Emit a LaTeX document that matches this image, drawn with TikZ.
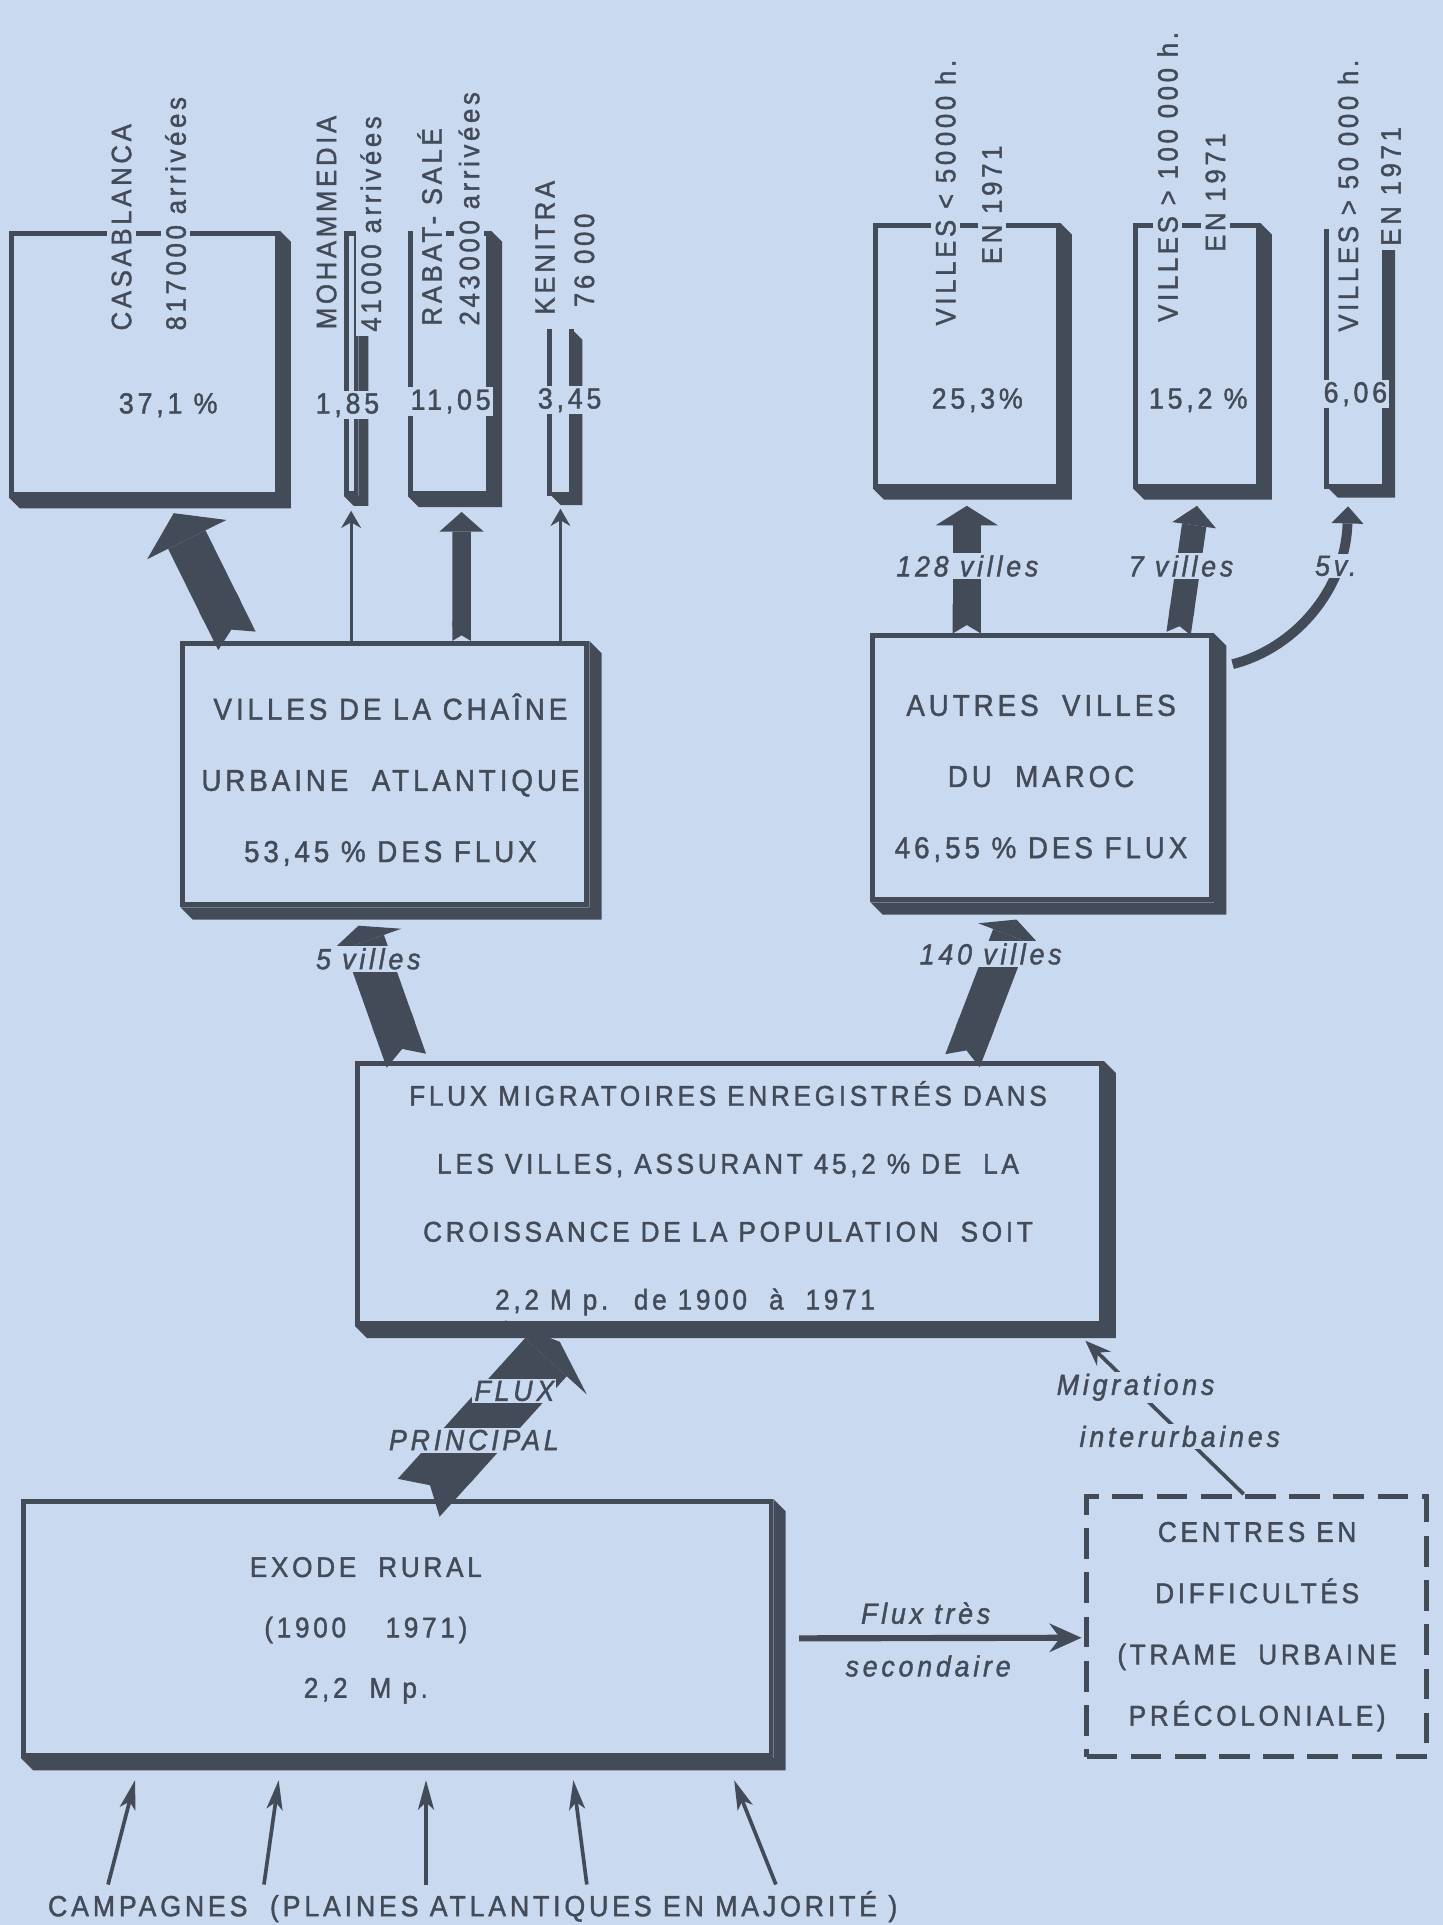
\documentclass[tikz,border=0pt]{standalone}
\usepackage{fontspec}
\setmainfont{Liberation Sans}
\newfontfamily\lett[LetterSpace=13, FakeStretch=0.92, FakeBold=1.4]{Liberation Sans}
\usetikzlibrary{arrows.meta,calc,fit}
\definecolor{paper}{RGB}{201,217,240}
\definecolor{ink}{RGB}{68,75,88}

% thick slab under the right and bottom sides of a frame
\newcommand\boxslab[2][9]{%
  \fill[ink] (#2.north east) -- ++(#1,#1) -- ($(#2.south east)+(#1,#1)$)
    -- ($(#2.south west)+(#1,#1)$) -- (#2.south west) -- (#2.south east) -- cycle;}

\tikzset{
  frame/.style={draw=ink, line width=0.08cm, inner sep=0pt},
  hidden/.style={inner sep=0pt},
  boxtext/.style={font=\lett\fontsize{14}{33}\selectfont, text=ink, align=center},
  vlabel/.style={rotate=90, anchor=west, font=\lett\fontsize{13}{15}\selectfont,
    text=ink, fill=paper, inner sep=2pt},
  value/.style={font=\lett\fontsize{13.5}{15}\selectfont, text=ink, fill=paper, inner sep=1pt},
  flow/.style={font=\lett\itshape\fontsize{13.5}{15}\selectfont, text=ink, fill=paper, inner sep=1pt},
  fat/.style n args={3}{draw=ink, line width=#1,
    {Triangle Cap[reversed, length=0pt .3]}-{Triangle[width=#2, length=#3, line width=0pt]}},
  thin/.style={draw=ink, line width=0.05cm, -{Stealth[length=0.28cm, width=0.32cm]}},
}

\begin{document}
\begin{tikzpicture}[x=0.02cm, y=-0.02cm]
\fill[paper] (0,0) rectangle (1175,1568);
\useasboundingbox (0,0) rectangle (1175,1568);

% Chaine atlantique: destination towns
\node[frame, fit={(9,190) (226,403)}] (casa) {};
\node[frame, fit={(282,190) (290,402)}] (moha) {};
\node[frame, fit={(334,190) (398,402)}] (rabat) {};
\node[hidden, fit={(448,268) (465,402)}] (keni) {};
\draw[ink, line width=0.08cm] (keni.north west) -- (keni.south west) -- (keni.south east) -- (keni.north east);
\boxslab{casa} \boxslab[8]{moha} \boxslab{rabat} \boxslab{keni}

% Autres villes: destination classes
\node[frame, fit={(713,184) (862,396)}] (small) {};
\node[frame, fit={(925,184) (1025,396)}] (large) {};
\node[hidden, fit={(1081,187) (1127,396)}] (medium) {};
\draw[ink, line width=0.08cm] (medium.north west) -- (medium.south west) -- (medium.south east) -- (medium.north east);
\boxslab{small} \boxslab{large} \boxslab{medium}

% Main boxes
\node[frame, fit={(149,524) (478,737)}] (chaine) {};
\node[frame, fit={(711,518) (987,733)}] (autres) {};
\node[frame, fit={(291,866) (897,1078)}] (flux) {};
\node[frame, fit={(19,1223) (628,1430)}] (exode) {};
\node[frame, dash pattern=on 0.5cm off 0.22cm, fit={(885,1219) (1162,1431)}] (centres) {};
\boxslab[10]{chaine} \boxslab[10]{autres} \boxslab[10]{flux} \boxslab[10]{exode}

% Flows
\draw[fat={0.68cm}{1.44cm}{0.48cm}] ($(chaine.north west)+(46,0)$) -- ($(casa.south)+(24,13)$);
\draw[thin] (moha.south |- chaine.north) -- ($(moha.south)+(0,12)$);
\draw[fat={0.3cm}{0.72cm}{0.32cm}] ($(chaine.north west)+(229,0)$) -- ($(rabat.south)+(10,13)$);
\draw[thin] (keni.south |- chaine.north) -- ($(keni.south)+(0,12)$);
\draw[fat={0.46cm}{1.02cm}{0.32cm}] (small.south |- autres.north) -- ($(small.south)+(0,14)$);
\draw[fat={0.4cm}{0.72cm}{0.32cm}] ($(autres.north east)+(-29,0)$) -- ($(large.south)+(0,14)$);
\draw[draw=ink, line width=0.16cm, -{Triangle[width=0.52cm, length=0.28cm, line width=0pt]}]
  ($(autres.north east)+(15,25)$) .. controls (1055,528) and (1096,480) .. ($(medium.south)+(-6,16)$);
\draw[fat={0.68cm}{1.28cm}{0.28cm}] ($(flux.north west)+(42,0)$) -- ($(chaine.south west)+(145,15)$);
\draw[fat={0.6cm}{1.12cm}{0.28cm}] ($(flux.north west)+(495,0)$) -- ($(autres.south west)+(119,14)$);
\draw[fat={0.92cm}{1.8cm}{0.34cm}] ($(exode.north west)+(324,-1)$) -- ($(flux.south west)+(167,13)$);
\draw[draw=ink, line width=0.06cm, -{Stealth[length=0.42cm, width=0.32cm]}]
  ($(centres.north west)+(130,0)$) -- ($(flux.south east)+(-15,12)$);
\draw[draw=ink, line width=0.1cm, -{Stealth[length=0.52cm, width=0.46cm]}]
  ($(exode.east)+(21,8)$) -- ($(centres.west)+(-2,9)$);
\foreach \a/\b in {71/93, 198/210, 330/330, 461/450, 615/581}
  \draw[draw=ink, line width=0.06cm, -{Stealth[length=0.48cm, width=0.26cm, inset=0.12cm]}]
    ($(exode.south west)+(\a,103)$) -- ($(exode.south west)+(\b,18)$);

% Town labels
\node[vlabel] (casaname) at (99,273) {CASABLANCA};
\node[vlabel] (casaflow) at (143,273) {817\,000 arrivées};
\node[vlabel] (mohaname) at (266,272) {MOHAMMEDIA};
\node[vlabel] (mohaflow) at (302,274) {41\,000 arrivées};
\node[vlabel] (rabatname) at (350,269) {RABAT- SALÉ};
\node[vlabel] (rabatflow) at (382,269) {243\,000 arrivées};
\node[vlabel] (keniname) at (444,260) {KENITRA};
\node[vlabel] (keniflow) at (476,254) {76 000};
\node[vlabel] (smallname) at (770,269) {VILLES < 50\,000 h.};
\node[vlabel] (smallyear) at (808,219) {EN 1971};
\node[vlabel] (largename) at (951,266) {VILLES > 100 000 h.};
\node[vlabel] (largeyear) at (990,209) {EN 1971};
\node[vlabel] (mediumname) at (1098,274) {VILLES > 50 000 h.};
\node[vlabel] (mediumyear) at (1133,204) {EN 1971};

\node[value] (casapct) at (137,330) {37,1 \%};
\node[value] (mohapct) at (283,330) {1,85};
\node[value] (rabatpct) at (367,327) {11,05};
\node[value] (kenipct) at (464,326) {3,45};
\node[value] (smallpct) at (796,326) {25,3\%};
\node[value] (largepct) at (976,326) {15,2 \%};
\node[value] (mediumpct) at (1104,321) {6,06};

% Flow labels
\node[flow] (flow128) at (788,461) {128 villes};
\node[flow] (flow7) at (962,461) {7 villes};
\node[flow] (flow5v) at (1088,461) {5v.};
\node[flow] (flow5) at (300,781) {5 villes};
\node[flow] (flow140) at (807,777) {140 villes};
\node[flow] (fluxword) at (419,1133) {FLUX};
\node[flow] (principal) at (386,1173) {PRINCIPAL};
\node[flow] (migr) at (925,1130) {Migrations};
\node[flow] (inter) at (961,1170) {interurbaines};
\node[flow, fill=none] (tres) at (754,1314) {Flux très};
\node[flow, fill=none] (second) at (756,1357) {secondaire};

% Box texts
\node[boxtext] (chainetext) at (318,635) {VILLES DE LA CHAÎNE\\URBAINE \ ATLANTIQUE\\53,45 \% DES FLUX};
\node[boxtext] (autrestext) at (848,634) {AUTRES \ VILLES\\DU \ MAROC\\46,55 \% DES FLUX};
\node[boxtext, font=\lett\fontsize{13.2}{31.5}\selectfont] (fluxtext) at (593,976)
  {FLUX MIGRATOIRES ENREGISTRÉS DANS\\LES VILLES, ASSURANT 45,2 \% DE \ LA\\CROISSANCE DE LA POPULATION \ SOIT\\2,2 M p. \ de 1900 \ à \ 1971\hspace*{1.4cm}};
\node[boxtext, font=\lett\fontsize{13.2}{28}\selectfont] (exodetext) at (298,1328) {EXODE \ RURAL\\(1900 \quad 1971)\\2,2 \ M p.};
\node[boxtext, font=\lett\fontsize{13.2}{28.4}\selectfont] (centrestext) at (1024,1325) {CENTRES EN\\DIFFICULTÉS\\(TRAME \ URBAINE\\PRÉCOLONIALE)};
\node[boxtext, font=\lett\fontsize{13.5}{15}\selectfont] (campagnes) at (385,1553) {CAMPAGNES \ (PLAINES ATLANTIQUES EN MAJORITÉ )};
\end{tikzpicture}
\end{document}
